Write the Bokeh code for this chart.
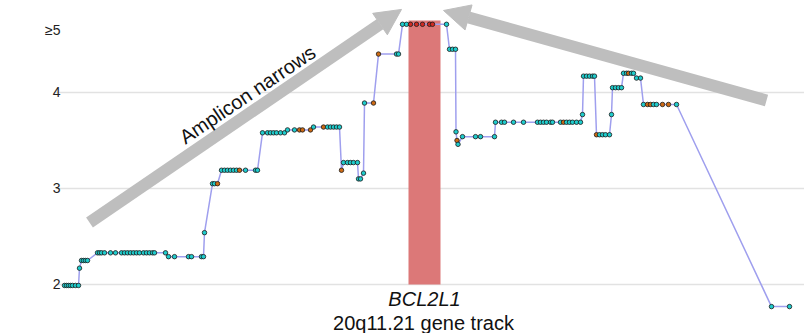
from bokeh.plotting import figure
from bokeh.models import Range1d, FixedTicker, Label, Arrow, NormalHead, ColumnDataSource
from bokeh.embed import file_html
from bokeh.resources import INLINE

# ---- data (probe position in arbitrary track units, copy number) ----
seg_positions = [
    [64, 66, 68, 70, 72, 75, 78],
    [79],
    [81, 83, 85, 87],
    [97, 99, 101, 104, 110, 115, 121, 124, 127, 130, 133, 136, 139, 143, 146, 149, 152, 154, 165],
    [168, 174, 188, 191, 201, 203],
    [204],
    [212, 214, 217],
    [221, 224, 227, 230, 233, 236, 239, 245, 255, 257],
    [262, 267, 270, 273, 276, 280, 284],
    [287, 294, 299, 302, 310],
    [313, 323, 327, 330, 333, 336, 339],
    [341],
    [343, 347, 350, 353, 357],
    [358, 360],
    [363],
    [364, 373],
    [378, 396, 398],
    [402, 406, 410, 416, 422, 429, 432, 446],
    [449, 452, 455],
    [455.5],
    [456.5],
    [457.5],
    [462, 475, 480, 494],
    [495, 501, 504, 513, 523, 537, 540, 543, 546, 550, 552, 560, 563, 566, 569, 572, 576, 580],
    [582],
    [583, 586, 589, 592, 594],
    [596, 599, 602, 605, 609],
    [611],
    [612, 615, 618, 621],
    [623, 626, 628, 631, 633],
    [636, 640],
    [643, 647, 650, 653, 656, 662, 668, 676],
    [771, 789],
]
seg_cn = [1.99, 2.17, 2.25, 2.33, 2.29, 2.54, 3.05, 3.19, 3.58, 3.61, 3.64, 3.19, 3.27,
          3.10, 3.16, 3.89, 4.40, 4.71, 4.45, 3.59, 3.50, 3.46, 3.54, 3.69, 3.77, 4.17,
          3.56, 3.77, 4.05, 4.20, 4.15, 3.875, 1.77]
orange_pos = [217, 239, 299, 302, 310, 323, 341, 373, 378, 456.5, 563, 596, 628, 647, 650, 662, 668]
red_pos = [410, 416, 422, 429, 432]

gene_start, gene_end = 408, 440
gene_cn_low, gene_cn_high = 2.0, 4.75

y_ticks = [2, 3, 4, 4.65]
y_tick_labels = ["2", "3", "4", "≥5"]
grid_ticks = [2, 3, 4]

arrow_left = (89, 2.646, 401, 4.865)
arrow_right = (766, 3.917, 443, 4.854)

# ---- build ----
xs, ys, fills = [], [], []
for ps, c in zip(seg_positions, seg_cn):
    for x in ps:
        xs.append(x)
        ys.append(c)
        if x in red_pos:
            fills.append("#d02a22")
        elif x in orange_pos:
            fills.append("#cc6a14")
        else:
            fills.append("#1fcccc")

src = ColumnDataSource(dict(x=xs, y=ys, fill=fills))

FONT = "Liberation Sans"
p = figure(width=804, height=333, output_backend="svg", toolbar_location=None,
           x_range=Range1d(55, 804), y_range=Range1d(1.4896, 4.958),
           min_border_left=55, min_border_right=0, min_border_top=0, min_border_bottom=0)
p.outline_line_color = None
p.xaxis.visible = False
p.xgrid.visible = False
p.ygrid.ticker = FixedTicker(ticks=grid_ticks)
p.ygrid.grid_line_color = "#e2e2e2"
p.ygrid.grid_line_width = 1.5

p.yaxis.ticker = FixedTicker(ticks=y_ticks)
p.yaxis.major_label_overrides = {t: l for t, l in zip(y_ticks, y_tick_labels)}
p.yaxis.axis_line_color = None
p.yaxis.major_tick_line_color = None
p.yaxis.minor_tick_line_color = None
p.yaxis.major_tick_out = 0
p.yaxis.major_tick_in = 0
p.yaxis.minor_tick_out = 0
p.yaxis.minor_tick_in = 0
p.yaxis.major_label_standoff = -5
p.yaxis.major_label_text_font = FONT
p.yaxis.major_label_text_font_size = "14px"
p.yaxis.major_label_text_color = "#222222"

# gene band
p.quad(left=[gene_start], right=[gene_end], bottom=[gene_cn_low], top=[gene_cn_high],
       fill_color="#dc7878", line_color=None)

# arrows
gray = "#bebebe"
for (x0, y0, x1, y1) in (arrow_left, arrow_right):
    p.add_layout(Arrow(end=NormalHead(size=26, fill_color=gray, line_color=gray, line_width=1),
                       x_start=x0, y_start=y0, x_end=x1, y_end=y1,
                       line_color=gray, line_width=12))

# line + points
p.line("x", "y", source=src, line_color="#9f9fee", line_width=1.5)
p.scatter("x", "y", source=src, size=4.5, fill_color="fill", line_color="#1a1a1a", line_width=0.8)

# texts
p.add_layout(Label(x=247, y=3.979, text="Amplicon narrows", angle=0.593, text_align="center",
                   text_baseline="middle", text_font=FONT, text_font_size="20px", text_color="#111111"))
p.add_layout(Label(x=27, y=3.29, text="Copy #", angle=1.5708, text_align="center",
                   text_baseline="middle", text_font=FONT, text_font_size="20px", text_color="#111111"))
p.add_layout(Label(x=424, y=1.854, text="BCL2L1", text_align="center", text_baseline="middle",
                   text_font=FONT, text_font_size="20px", text_font_style="italic", text_color="#111111"))
p.add_layout(Label(x=423, y=1.594, text="20q11.21 gene track", text_align="center",
                   text_baseline="middle", text_font=FONT, text_font_size="20px", text_color="#111111"))

open("out.html", "w").write(file_html(p, INLINE))
